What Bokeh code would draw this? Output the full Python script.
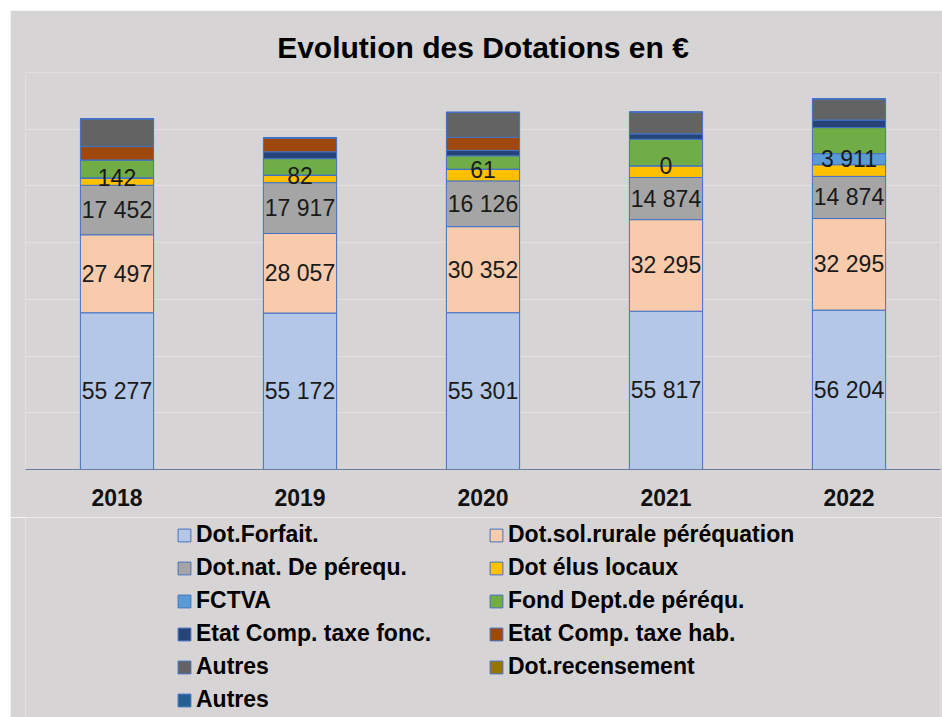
from bokeh.plotting import figure
from bokeh.layouts import column
from bokeh.models import ColumnDataSource, Range1d, FactorRange, Legend, LegendItem, SingleIntervalTicker
from bokeh.core.properties import value
from bokeh.embed import file_html
from bokeh.resources import INLINE

years = ["2018", "2019", "2020", "2021", "2022"]
dot_forfait = [55277, 55172, 55301, 55817, 56204]
dot_rurale = [27497, 28057, 30352, 32295, 32295]
dot_nat = [17452, 17917, 16126, 14874, 14874]
dot_elus = [2500, 2600, 4100, 4100, 4100]
fctva = [142, 82, 61, 0, 3911]
fond_dept = [6300, 5800, 4700, 9400, 9200]
taxe_fonc = [0, 2400, 1900, 1900, 2700]
taxe_hab = [4700, 4900, 4600, 0, 0]
autres = [9800, 0, 8800, 7650, 7400]
dot_recens = [0, 0, 0, 0, 0]
autres_2 = [0, 0, 0, 0, 0]

series_keys = ["forfait", "rurale", "nat", "elus", "fctva", "fond", "tfonc", "thab", "autres", "recens", "autres2"]
series_vals = [dot_forfait, dot_rurale, dot_nat, dot_elus, fctva, fond_dept, taxe_fonc, taxe_hab, autres, dot_recens, autres_2]
series_labels = ["Dot.Forfait.", "Dot.sol.rurale péréquation", "Dot.nat. De pérequ.", "Dot élus locaux",
                 "FCTVA", "Fond Dept.de péréqu.", "Etat Comp. taxe fonc.", "Etat Comp. taxe hab.",
                 "Autres", "Dot.recensement", "Autres"]
colors = ["#b4c7e7", "#f8cbad", "#a5a5a5", "#ffc000", "#5b9bd5", "#70ad47",
          "#264478", "#9e480e", "#636363", "#997300", "#255e91"]

BG = "#d6d4d5"
FONT = "Liberation Sans"
EDGE = "#4472c4"

data = {"years": years}
for k, v in zip(series_keys, series_vals):
    data[k] = v
src = ColumnDataSource(data)

p = figure(x_range=FactorRange(*years, range_padding=0), y_range=Range1d(0, 140000),
           width=932, height=507, output_backend="svg", toolbar_location=None,
           min_border_left=15, min_border_right=2, min_border_top=62, min_border_bottom=48)
p.margin = (10, 0, 0, 10)
p.background_fill_color = BG
p.border_fill_color = BG
p.outline_line_color = None

renderers = p.vbar_stack(series_keys, x="years", width=0.4, source=src,
                         fill_color=colors, line_color=EDGE, line_width=1)

# labels for selected series at segment centers
label_keys = ["forfait", "rurale", "nat", "fctva"]
lx, ly, lt = [], [], []
for i, yr in enumerate(years):
    base = 0
    for k, v in zip(series_keys, series_vals):
        if k in label_keys:
            lx.append(yr)
            ly.append(base + v[i] / 2)
            lt.append(f"{v[i]:,}".replace(",", " "))
        base += v[i]
lsrc = ColumnDataSource(dict(x=lx, y=ly, t=lt))
p.text(x="x", y="y", text="t", source=lsrc, text_align="center", text_baseline="middle",
       text_font=value(FONT), text_font_size="23px", text_color="#1a1a1a")

p.title.text = "Evolution des Dotations en €"
p.title.align = "center"
p.title.text_font = FONT
p.title.text_font_size = "30px"
p.title.text_font_style = "bold"
p.title.text_color = "#000000"
p.title.standoff = 18

p.yaxis.visible = False
p.xgrid.grid_line_color = None
p.ygrid.ticker = SingleIntervalTicker(interval=20000)
p.ygrid.grid_line_color = "#e2e0e2"
p.ygrid.grid_line_width = 1

p.xaxis.axis_line_color = "#6a7ca0"
p.xaxis.major_tick_line_color = None
p.xaxis.minor_tick_line_color = None
p.xaxis.major_tick_out = 0
p.xaxis.major_label_standoff = 19
p.xaxis.major_label_text_font = FONT
p.xaxis.major_label_text_font_size = "23px"
p.xaxis.major_label_text_font_style = "bold"
p.xaxis.major_label_text_color = "#111111"

# legend panel (separate figure below the chart); its bars lie far below its visible range
q = figure(x_range=FactorRange(*years), y_range=Range1d(10000000, 10100000), width=932, height=200,
           output_backend="svg", toolbar_location=None,
           min_border_left=0, min_border_right=0, min_border_top=0, min_border_bottom=0)
q.margin = (0, 0, 0, 10)
q.background_fill_color = BG
q.border_fill_color = BG
q.outline_line_color = None
q.axis.visible = False
q.grid.visible = False

swatches = q.vbar_stack(series_keys, x="years", width=0.4, source=src,
                        fill_color=colors, line_color=EDGE, line_width=1)

def make_legend(idx, loc):
    items = [LegendItem(label=series_labels[i], renderers=[swatches[i]]) for i in idx]
    return Legend(items=items, location=loc, orientation="vertical",
                  glyph_width=16, glyph_height=16, label_standoff=4, spacing=6,
                  label_text_font=FONT, label_text_font_size="23px", label_text_font_style="bold",
                  label_text_color="#000000", padding=0, margin=0,
                  border_line_alpha=0, background_fill_alpha=0)

q.add_layout(make_legend([0, 2, 4, 6, 8, 10], (151, 4)), "center")
q.add_layout(make_legend([1, 3, 5, 7, 9], (463, 37)), "center")

layout = column(p, q, spacing=0)
open("out.html", "w").write(file_html(layout, INLINE))
